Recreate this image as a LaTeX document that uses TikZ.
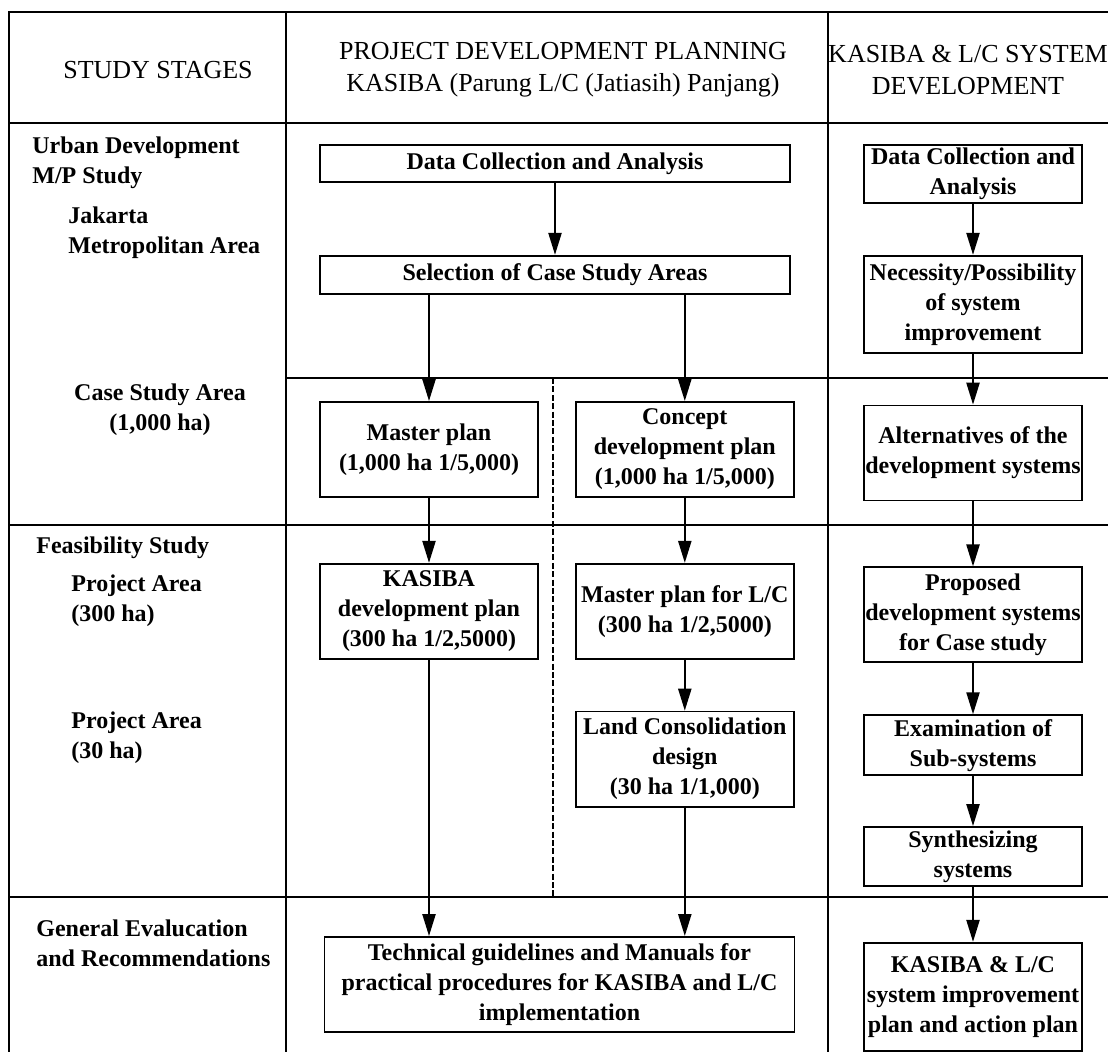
\documentclass[tikz,border=0pt]{standalone}
\usepackage{fontspec}
\setmainfont{Liberation Serif}
\usepackage{tikz}
\usetikzlibrary{positioning, arrows.meta, calc}
\newcommand{\BoxFont}{\bfseries\fontsize{12}{15}\selectfont}
\newcommand{\HeadFont}{\fontsize{13}{16}\selectfont}
\tikzset{
    box/.style={draw, line width=0.9pt, align=center, inner sep=0pt, font=\BoxFont},
    widebox/.style={box, minimum width=235pt},
    halfbox/.style={box, minimum width=109pt},
    stagetext/.style={anchor=west, align=left, inner sep=0pt, font=\BoxFont},
    headtext/.style={align=center, inner sep=0pt, font=\HeadFont},
    grid/.style={line width=1pt},
}

\begin{document}
\begin{tikzpicture}[x=0.5pt, y=-0.5pt]
    \tikzset{
      flow/.style={-{Triangle[length=11pt, width=6.5pt]}, line width=1.1pt}
    }
    \useasboundingbox (0,0) rectangle (1108,1052);

    \draw[grid] (9,1052) -- (9,12) -- (1108,12);
    \foreach \y in {123, 525, 897}
      \draw[grid] (9,\y) -- (1108,\y);
    \draw[grid] (286,378) -- (1108,378);
    \foreach \x in {286, 828}
      \draw[grid] (\x,12) -- (\x,1052);
    \draw[grid, dash pattern=on 3pt off 1.2pt] (553,378) -- (553,897);

    \node[headtext] (hstage) at (158,70) {STUDY STAGES};
    \node[headtext] (hplan) at (563,70) {PROJECT DEVELOPMENT PLANNING\\KASIBA (Parung L/C (Jatiasih) Panjang)};
    \node[headtext] (hsys) at (968,70) {KASIBA \& L/C SYSTEM\\DEVELOPMENT};

    \node[stagetext] (urban) at (32,162.5) {Urban Development\\M/P Study};
    \node[stagetext] (jakarta) at (68,233) {Jakarta\\Metropolitan Area};
    \node[stagetext, anchor=center, align=center] (casearea) at (160,410) {Case Study Area\\(1,000 ha)};
    \node[stagetext] (feas) at (36,548) {Feasibility Study};
    \node[stagetext] (proj300) at (71,601) {Project Area\\(300 ha)};
    \node[stagetext] (proj30) at (71,738) {Project Area\\(30 ha)};
    \node[stagetext] (geneval) at (36,943) {General Evalucation\\and Recommendations};

    \node[widebox, minimum height=18.5pt] (dca) at (555,163.5) {Data Collection and Analysis};
    \node[widebox, minimum height=19pt, below=36pt of dca] (sel) {Selection of Case Study Areas};

    \node[halfbox, minimum height=47.5pt] (mp) at (429,449.5) {Master plan\\(1,000 ha 1/5,000)};
    \node[halfbox, minimum height=47.5pt, right=18pt of mp] (cdp) {Concept\\development plan\\(1,000 ha 1/5,000)};
    \node[halfbox, minimum height=47.5pt, below=32.5pt of mp] (kdp) {KASIBA\\development plan\\(300 ha 1/2,5000)};
    \node[halfbox, minimum height=47.5pt, below=32.5pt of cdp] (mplc) {Master plan for L/C\\(300 ha 1/2,5000)};
    \node[halfbox, minimum height=47.5pt, below=25.5pt of mplc] (lcd) {Land Consolidation\\design\\(30 ha 1/1,000)};
    \node[widebox, minimum height=47.5pt] (tech) at (559.5,984.5) {Technical guidelines and Manuals for\\practical procedures for KASIBA and L/C\\implementation};

    \node[halfbox, minimum height=29pt] (rdca) at (973,174) {Data Collection and\\Analysis};
    \node[halfbox, minimum height=48.5pt, below=25.5pt of rdca] (nec) {Necessity/Possibility\\of system\\improvement};
    \node[halfbox, minimum height=47.5pt, below=25.5pt of nec] (alt) {Alternatives of the\\development systems};
    \node[halfbox, minimum height=47.5pt, below=32.5pt of alt] (pds) {Proposed\\development systems\\for Case study};
    \node[halfbox, minimum height=30pt, below=25.5pt of pds] (exam) {Examination of\\Sub-systems};
    \node[halfbox, minimum height=29.5pt, below=25pt of exam] (syn) {Synthesizing\\systems};
    \node[halfbox, minimum height=54pt, below=27.5pt of syn] (kimp) {KASIBA \& L/C\\system improvement\\plan and action plan};

    \draw[flow] (dca) -- (sel);
    \draw[flow] (sel.south -| mp) -- (mp);
    \draw[flow] (sel.south -| cdp) -- (cdp);
    \draw[flow] (mp) -- (kdp);
    \draw[flow] (cdp) -- (mplc);
    \draw[flow] (mplc) -- (lcd);
    \draw[flow] (kdp) -- (kdp |- tech.north);
    \draw[flow] (lcd) -- (lcd |- tech.north);
    \foreach \a/\b in {rdca/nec, nec/alt, alt/pds, pds/exam, exam/syn, syn/kimp}
      \draw[flow] (\a) -- (\b);
  \end{tikzpicture}
\end{document}
